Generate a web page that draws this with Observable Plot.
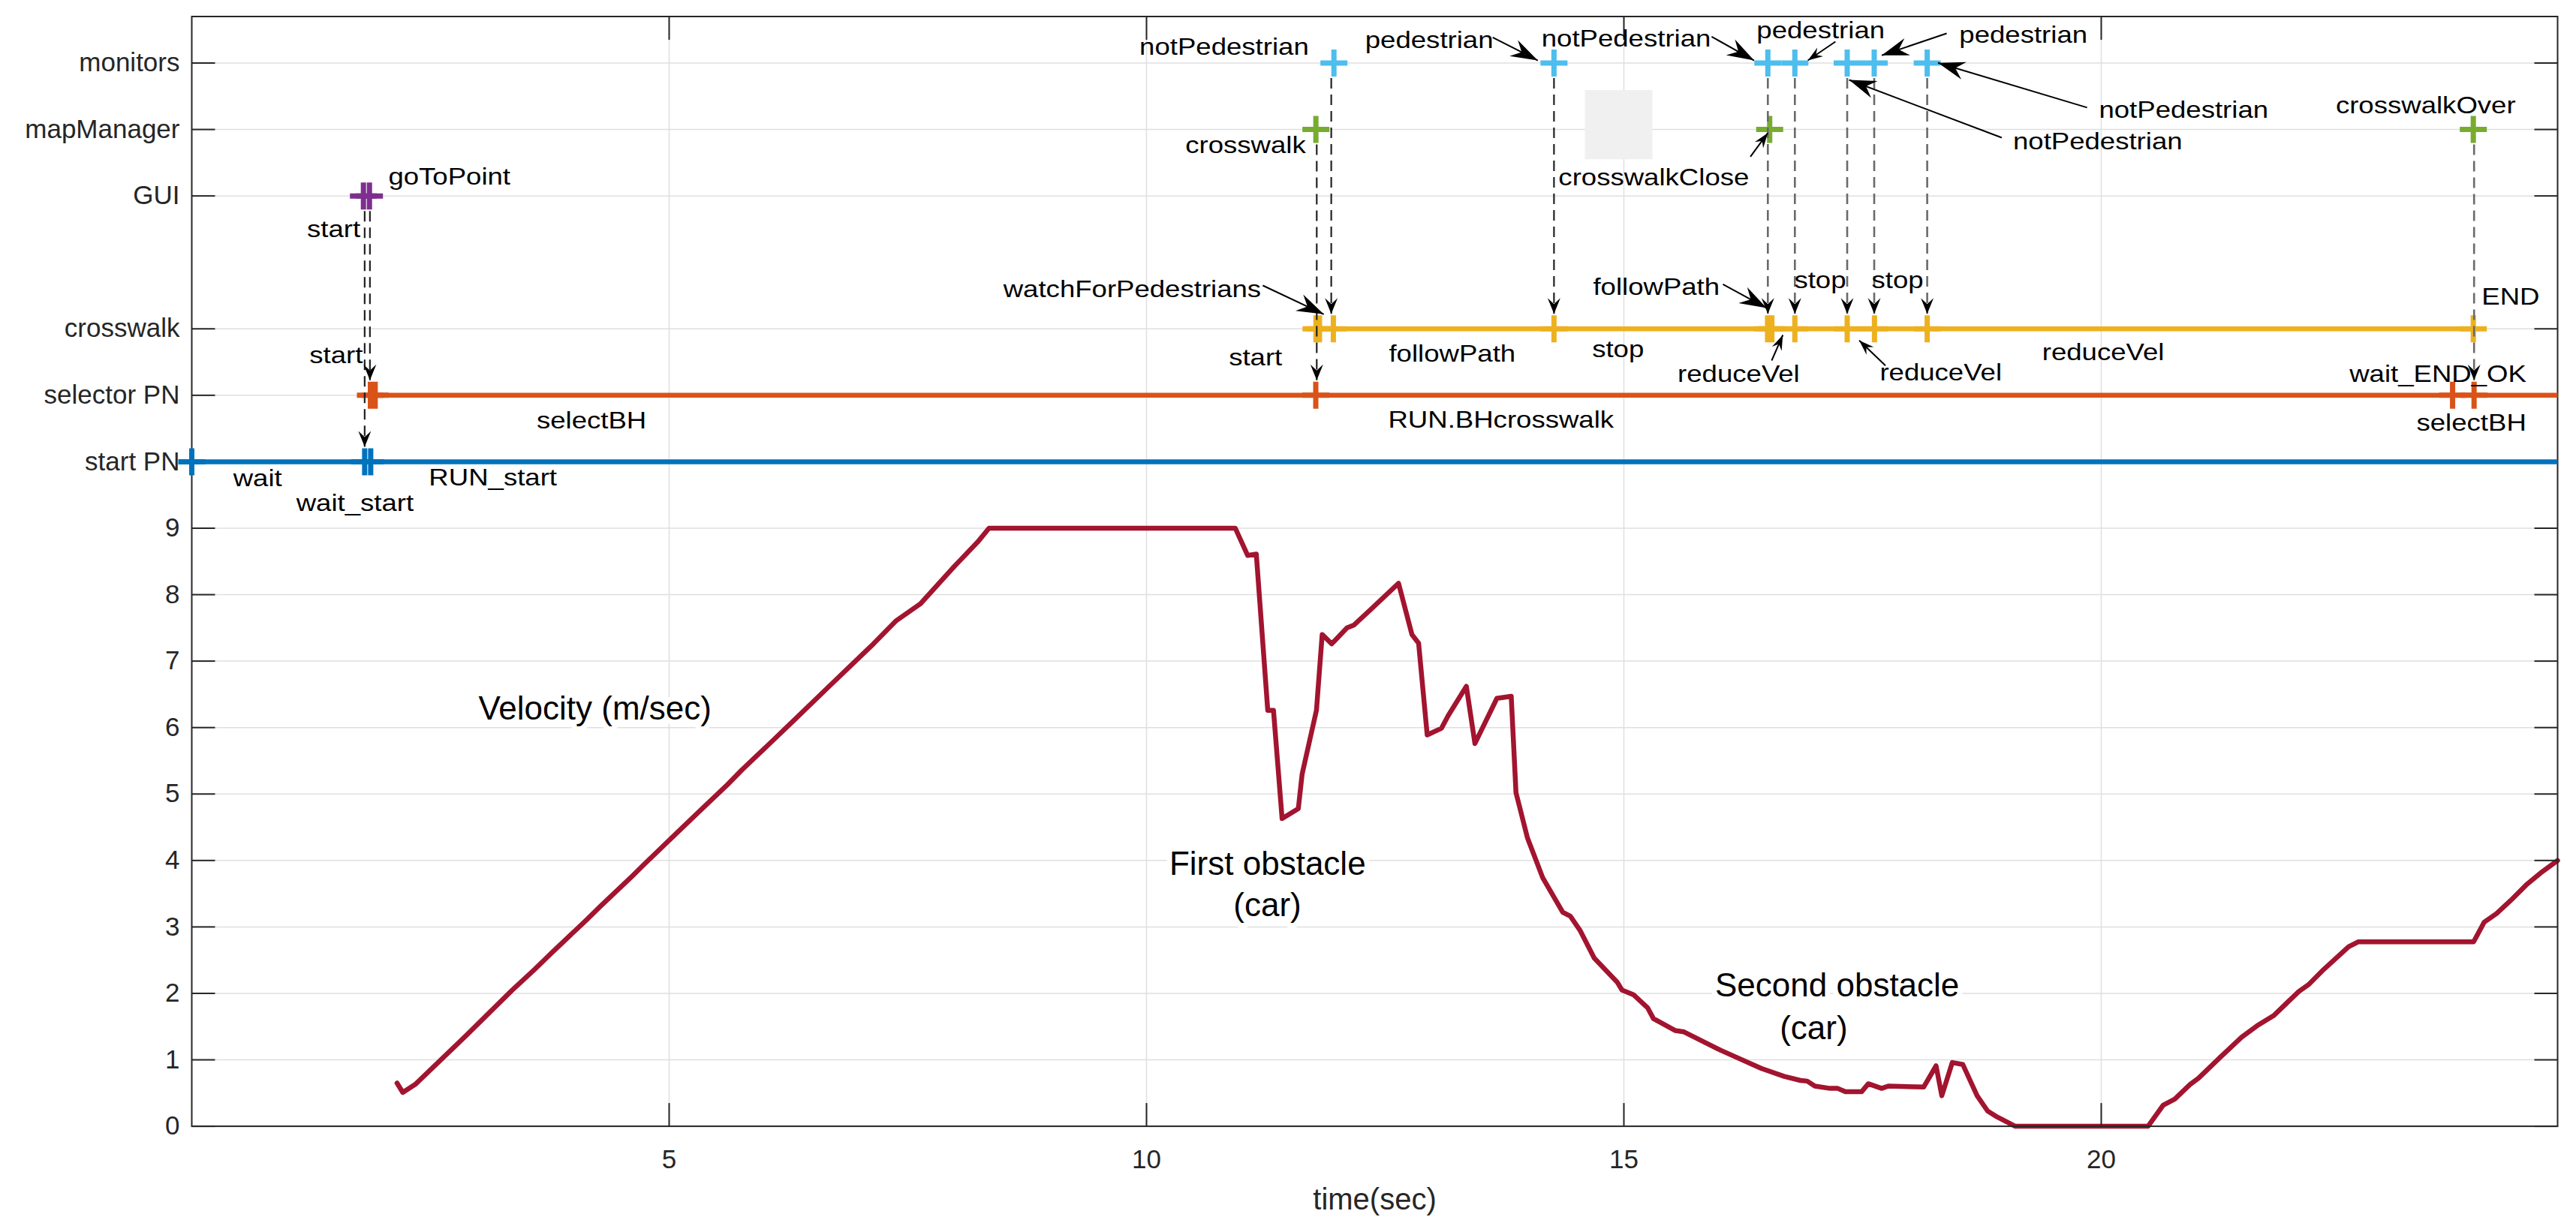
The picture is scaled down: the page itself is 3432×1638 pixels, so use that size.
<!DOCTYPE html>
<html>
<head>
<meta charset="utf-8">
<script src="https://cdn.jsdelivr.net/npm/d3@7"></script>
<script src="https://cdn.jsdelivr.net/npm/@observablehq/plot@0.6"></script>
<style>
  html, body { margin: 0; padding: 0; background: #fff; overflow: hidden; }
  #chart svg { display: block; }
</style>
</head>
<body>
<div id="chart"></div>
<script>
// ---------------- data ----------------
const laneNames  = ["start PN", "selector PN", "crosswalk", "GUI", "mapManager", "monitors"];
const laneLevels = [10, 11, 12, 14, 15, 16];
const velocityTicks = [0, 1, 2, 3, 4, 5, 6, 7, 8, 9];
const timeTicks = [5, 10, 15, 20];
const timeRange = [0, 24.78];
const levelRange = [0, 16.7];

// velocity (m/sec) against time (sec)
const velocityTime = [2.15, 2.21, 2.34, 2.87, 3.35, 3.59, 3.77, 4.13, 4.28, 4.61,
  4.73, 5.07, 5.31, 5.61, 5.76, 6.09, 6.30, 6.69, 6.90, 7.14,
  7.38, 7.63, 7.99, 8.23, 8.35, 10.93, 11.06, 11.15, 11.27, 11.33,
  11.42, 11.59, 11.63, 11.78, 11.84, 11.94, 12.10, 12.17, 12.35, 12.64,
  12.78, 12.85, 12.94, 13.09, 13.16, 13.35, 13.44, 13.67, 13.82, 13.87,
  13.99, 14.15, 14.36, 14.44, 14.54, 14.69, 14.93, 14.98, 15.10, 15.25,
  15.31, 15.54, 15.63, 16.02, 16.44, 16.68, 16.85, 16.92, 17.00, 17.16,
  17.24, 17.32, 17.49, 17.56, 17.70, 17.77, 18.14, 18.27, 18.33, 18.44,
  18.55, 18.70, 18.81, 18.91, 19.10, 20.49, 20.65, 20.77, 20.93, 21.02,
  21.24, 21.47, 21.63, 21.81, 22.07, 22.17, 22.33, 22.59, 22.69, 23.90,
  24.01, 24.14, 24.29, 24.45, 24.60, 24.78];
const velocityValue = [0.65, 0.51, 0.63, 1.36, 2.04, 2.36, 2.61, 3.10, 3.31, 3.76,
  3.93, 4.40, 4.73, 5.14, 5.36, 5.81, 6.10, 6.64, 6.93, 7.26,
  7.61, 7.86, 8.43, 8.79, 9.0, 9.0, 8.59, 8.61, 6.26, 6.26,
  4.63, 4.78, 5.30, 6.26, 7.40, 7.26, 7.50, 7.54, 7.78, 8.17,
  7.40, 7.27, 5.89, 5.99, 6.18, 6.62, 5.76, 6.44, 6.47, 5.02,
  4.34, 3.74, 3.22, 3.16, 2.95, 2.53, 2.17, 2.05, 1.98, 1.78,
  1.62, 1.44, 1.42, 1.14, 0.87, 0.75, 0.69, 0.68, 0.605, 0.57,
  0.57, 0.52, 0.52, 0.64, 0.57, 0.605, 0.59, 0.91, 0.46, 0.96,
  0.93, 0.46, 0.23, 0.14, 0.0, 0.0, 0.32, 0.41, 0.63, 0.725,
  1.03, 1.34, 1.51, 1.67, 2.03, 2.13, 2.36, 2.70, 2.775, 2.775,
  3.07, 3.20, 3.40, 3.63, 3.81, 4.0];

// petri-net / component timelines
const timelineLane = ["start PN", "selector PN", "crosswalk"];
const timelineFrom = [0, 1.871, 11.775];
const timelineTo   = [24.78, 24.78, 23.897];

// events (+ markers)
const eventLane = [
  "start PN", "start PN", "start PN",
  "selector PN", "selector PN", "selector PN", "selector PN", "selector PN",
  "crosswalk", "crosswalk", "crosswalk", "crosswalk", "crosswalk", "crosswalk",
  "crosswalk", "crosswalk", "crosswalk", "crosswalk", "crosswalk",
  "GUI", "GUI",
  "mapManager", "mapManager", "mapManager",
  "monitors", "monitors", "monitors", "monitors", "monitors", "monitors", "monitors"];
const eventTime = [
  0, 1.811, 1.874,
  1.871, 1.921, 11.773, 23.680, 23.905,
  11.775, 11.812, 11.957, 14.268, 16.505, 16.550,
  16.791, 17.339, 17.625, 18.177, 23.897,
  1.798, 1.861,
  11.774, 16.527, 23.897,
  11.963, 14.268, 16.508, 16.791, 17.339, 17.622, 18.177];

// dashed message links (dark ones and grey ones)
const darkLinkTime = [1.811, 1.866, 11.783, 11.935, 14.268];
const darkLinkFrom = ["GUI", "GUI", "mapManager", "monitors", "monitors"];
const darkLinkTo   = ["start PN", "selector PN", "selector PN", "crosswalk", "crosswalk"];
const greyLinkTime = [16.508, 16.791, 17.339, 17.622, 18.177, 23.905];
const greyLinkFrom = ["monitors", "monitors", "monitors", "monitors", "monitors", "mapManager"];
const greyLinkTo   = ["crosswalk", "crosswalk", "crosswalk", "crosswalk", "crosswalk", "selector PN"];

// event labels (left end, baseline)
const labelText = ["start", "goToPoint", "start", "selectBH", "wait", "wait_start", "RUN_start",
  "notPedestrian", "crosswalk", "pedestrian", "notPedestrian", "crosswalkClose", "pedestrian",
  "pedestrian", "notPedestrian", "notPedestrian", "crosswalkOver", "watchForPedestrians", "start",
  "followPath", "RUN.BHcrosswalk", "stop", "followPath", "reduceVel", "stop", "stop", "reduceVel",
  "reduceVel", "END", "wait_END_OK", "selectBH"];
const labelTime = [1.207, 2.059, 1.233, 3.612, 0.434, 1.094, 2.483, 9.926, 10.407, 12.290,
  14.137, 14.315, 16.390, 18.513, 19.976, 19.076, 22.456, 8.500, 10.862, 12.539,
  12.531, 14.667, 14.677, 15.563, 16.784, 17.595, 17.680, 19.381, 23.984, 22.600, 23.302];
const labelLevel = [13.386, 14.176, 11.486, 10.500, 9.634, 9.259, 9.641, 16.124, 14.647, 16.228,
  16.246, 14.165, 16.378, 16.302, 15.179, 14.700, 15.241, 12.483, 11.448, 11.504,
  10.516, 11.575, 12.508, 11.204, 12.615, 12.615, 11.222, 11.534, 12.370, 11.204, 10.470];

// annotation arrows: label -> marker
const bigNoteX1 = [11.218, 13.626, 15.919, 18.381, 19.852, 18.958, 16.037];
const bigNoteY1 = [12.652, 16.386, 16.397, 16.446, 15.330, 14.876, 12.671];
const bigNoteX2 = [11.857, 14.098, 16.364, 17.701, 18.290, 17.359, 16.495];
const bigNoteY2 = [12.220, 16.039, 16.039, 16.115, 16.002, 15.746, 12.313];
const smallNoteX1 = [17.216, 16.325, 16.548, 17.740];
const smallNoteY1 = [16.322, 14.591, 11.523, 11.448];
const smallNoteX2 = [16.927, 16.508, 16.665, 17.465];
const smallNoteY2 = [16.039, 14.948, 11.907, 11.825];

// velocity panel annotations (centre, baseline)
const noteText  = ["Velocity (m/sec)", "First obstacle", "(car)", "Second obstacle", "(car)"];
const noteTime  = [4.223, 11.268, 11.266, 17.234, 16.988];
const noteLevel = [6.118, 3.785, 3.166, 1.960, 1.316];

// empty grey box in the figure
const boxX1 = [14.596], boxX2 = [15.303], boxY1 = [14.546], boxY2 = [15.588];

// ---------------- layout ----------------
const W = 3432, H = 1638;
const M = {left: 255, right: 25, top: 21.5, bottom: 137.4};
const sx = (W - M.left - M.right) / (timeRange[1] - timeRange[0]);
const sy = (H - M.top - M.bottom) / (levelRange[1] - levelRange[0]);
const laneLevel = new Map(laneNames.map((n, i) => [n, laneLevels[i]]));
const laneLabel = new Map(laneLevels.map((l, i) => [l, laneNames[i]]));
const yTickValues = [...velocityTicks, ...laneLevels];

const velocity = velocityTime.map((t, i) => ({t, v: velocityValue[i]}));
const timelines = timelineLane.map((lane, i) => ({lane, y: laneLevel.get(lane), from: timelineFrom[i], to: timelineTo[i]}));
const events = eventLane.map((lane, i) => ({lane, y: laneLevel.get(lane), t: eventTime[i]}));
const gapY = 20 / sy;
const mkLinks = (T, F, To) => T.map((t, i) => ({t, y1: laneLevel.get(F[i]) - gapY, y2: laneLevel.get(To[i]) + gapY}));
const darkLinks = mkLinks(darkLinkTime, darkLinkFrom, darkLinkTo);
const greyLinks = mkLinks(greyLinkTime, greyLinkFrom, greyLinkTo);
const labels = labelText.map((text, i) => ({text, t: labelTime[i], y: labelLevel[i]}));
const mkNotes = (X1, Y1, X2, Y2) => X1.map((x1, i) => ({x1, y1: Y1[i], x2: X2[i], y2: Y2[i]}));
const bigNotes = mkNotes(bigNoteX1, bigNoteY1, bigNoteX2, bigNoteY2);
const smallNotes = mkNotes(smallNoteX1, smallNoteY1, smallNoteX2, smallNoteY2);
const notes = noteText.map((text, i) => ({text, t: noteTime[i], y: noteLevel[i]}));
const boxes = boxX1.map((x1, i) => ({x1, x2: boxX2[i], y1: boxY1[i], y2: boxY2[i]}));

// ---------------- symbols ----------------
const seg = (dx, dy) => ({draw(c) { c.moveTo(0, 0); c.lineTo(dx, dy); }});
const plus = (r) => ({draw(c) { c.moveTo(-r, 0); c.lineTo(r, 0); c.moveTo(0, -r); c.lineTo(0, r); }});
const head = (len, hw, notch, deg) => {
  const a = deg * Math.PI / 180, ca = Math.cos(a), sa = Math.sin(a);
  const R = (x, y) => [x * ca - y * sa, x * sa + y * ca];
  return {draw(c) {
    const p1 = R(-len, -hw), p2 = R(-len + notch, 0), p3 = R(-len, hw);
    c.moveTo(0, 0); c.lineTo(p1[0], p1[1]); c.lineTo(p2[0], p2[1]); c.lineTo(p3[0], p3[1]); c.closePath();
  }};
};
const angleOf = (d) => Math.atan2(-(d.y2 - d.y1) * sy, (d.x2 - d.x1) * sx) * 180 / Math.PI;

const tickStyle = {stroke: "#262626", strokeWidth: 2, fill: "none"};
const labelFS = 31, noteFS = 44;

const marks = [
  Plot.ruleX(timeTicks, {stroke: "#dfdfdf", strokeWidth: 1.5}),
  Plot.ruleY(yTickValues, {stroke: "#dfdfdf", strokeWidth: 1.5}),
  Plot.rect(boxes, {x1: "x1", x2: "x2", y1: "y1", y2: "y2", fill: "#f0f0f0"}),
  Plot.line(velocity, {x: "t", y: "v", stroke: "#A2142F", strokeWidth: 6.5, strokeLinejoin: "round"}),
  Plot.frame({stroke: "#262626", strokeWidth: 2}),
  Plot.dot(yTickValues, {x: timeRange[0], y: d => d, symbol: seg(31, 0), ...tickStyle}),
  Plot.dot(yTickValues, {x: timeRange[1], y: d => d, symbol: seg(-31, 0), ...tickStyle}),
  Plot.dot(timeTicks, {x: d => d, y: levelRange[0], symbol: seg(0, -31), ...tickStyle}),
  Plot.dot(timeTicks, {x: d => d, y: levelRange[1], symbol: seg(0, 31), ...tickStyle}),
  Plot.link(timelines, {x1: "from", x2: "to", y1: "y", y2: "y", stroke: "lane", strokeWidth: 6.5}),
  Plot.dot(events, {x: "t", y: "y", stroke: "lane", symbol: plus(18), strokeWidth: 7, fill: "none"}),
  Plot.link(darkLinks, {x1: "t", x2: "t", y1: "y1", y2: "y2", stroke: "#222", strokeWidth: 2.2, strokeDasharray: "14,8"}),
  Plot.link(greyLinks, {x1: "t", x2: "t", y1: "y1", y2: "y2", stroke: "#6a6a6a", strokeWidth: 2.6, strokeDasharray: "14,8"}),
  Plot.dot([...darkLinks, ...greyLinks], {x: "t", y: "y2", symbol: head(21, 8.5, 8, 90), fill: "#000", stroke: "none"}),
  Plot.link(bigNotes, {x1: "x1", y1: "y1", x2: "x2", y2: "y2", stroke: "#000", strokeWidth: 2}),
  Plot.link(smallNotes, {x1: "x1", y1: "y1", x2: "x2", y2: "y2", stroke: "#000", strokeWidth: 2}),
  ...bigNotes.map(d => Plot.dot([d], {x: "x2", y: "y2", symbol: head(36, 12, 12, angleOf(d)), fill: "#000", stroke: "none"})),
  ...smallNotes.map(d => Plot.dot([d], {x: "x2", y: "y2", symbol: head(20, 7, 7, angleOf(d)), fill: "#000", stroke: "none"})),
  Plot.text(labels, {x: "t", y: "y", text: "text", textAnchor: "start", lineAnchor: "middle",
    dy: -0.32 * labelFS, fontSize: labelFS, fill: "#000"}),
  Plot.text(notes, {x: "t", y: "y", text: "text", textAnchor: "middle", lineAnchor: "middle",
    dy: -0.32 * noteFS, fontSize: noteFS, fill: "#000", stroke: "#fff", strokeWidth: 14}),
  Plot.axisX(timeTicks, {anchor: "bottom", tickSize: 0, tickPadding: 31, fontSize: 35, color: "#262626", label: null,
    tickFormat: d => String(d)}),
  Plot.axisY(yTickValues, {anchor: "left", tickSize: 0, tickPadding: 16, fontSize: 35, color: "#262626", label: null,
    tickFormat: d => laneLabel.has(d) ? laneLabel.get(d) : String(d)}),
  Plot.text(["time(sec)"], {frameAnchor: "bottom", lineAnchor: "middle", dy: 110.4 - 0.32 * 40,
    text: d => d, fontSize: 40, fill: "#262626"})
];

const chart = Plot.plot({
  width: W, height: H,
  marginLeft: M.left, marginRight: M.right, marginTop: M.top, marginBottom: M.bottom,
  x: {domain: timeRange},
  y: {domain: levelRange},
  color: {type: "ordinal", domain: laneNames,
    range: ["#0072BD", "#D95319", "#EDB120", "#7E2F8E", "#77AC30", "#4DBEEE"]},
  style: {fontFamily: "Arial, 'Liberation Sans', Helvetica, sans-serif", background: "#fff", overflow: "visible"},
  marks
});
document.getElementById("chart").appendChild(chart);

// the event labels in the reference are horizontally wide: stretch them about their anchor
chart.querySelectorAll(`g[font-size="${labelFS}"] text, g[font-size="${labelFS}px"] text`).forEach(el => {
  const tr = el.getAttribute("transform") || "";
  const xa = el.getAttribute("x");
  let pre = "";
  if (xa != null && !/em$/.test(xa)) { pre = ` translate(${+xa},0)`; el.removeAttribute("x"); }
  el.setAttribute("transform", `${tr}${pre} scale(1.18,1)`);
});
</script>
</body>
</html>
